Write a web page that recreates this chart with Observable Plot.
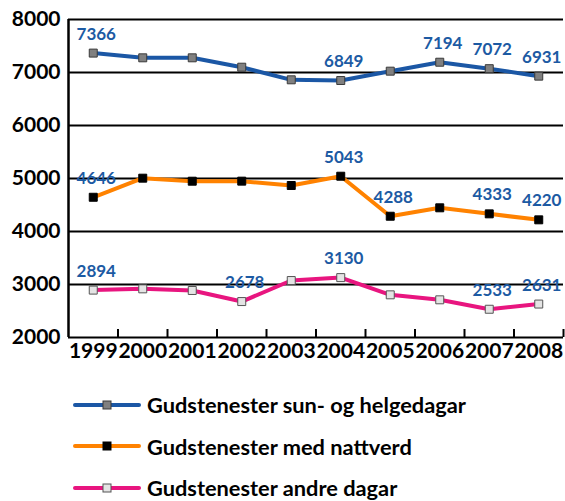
<!DOCTYPE html>
<html><head><meta charset="utf-8">
<script src="https://cdn.jsdelivr.net/npm/d3@7"></script>
<script src="https://cdn.jsdelivr.net/npm/@observablehq/plot@0.6"></script>
<style>
body{margin:0;background:#fff;font-family:Lato,"Liberation Sans",sans-serif;}
#wrap{position:relative;width:565px;height:501px;overflow:hidden;}
#legend{position:absolute;left:73px;top:384px;}
.row{display:flex;align-items:center;height:41.5px;}
.row span{margin-left:6px;font-size:21.8px;font-weight:bold;color:#000;white-space:nowrap;}
</style></head><body><div id="wrap"><div id="chart"></div><div id="legend"></div></div>
<script>
const years = [1999,2000,2001,2002,2003,2004,2005,2006,2007,2008];
const sunHelg = [7366,7277,7277,7100,6862,6849,7025,7194,7072,6931];
const nattverd = [4646,5006,4949,4950,4868,5043,4288,4447,4333,4220];
const andre = [2894,2918,2887,2678,3075,3130,2805,2711,2533,2631];
const seriesNames = ["Gudstenester sun- og helgedagar","Gudstenester med nattverd","Gudstenester andre dagar"];
const labelledYears = [[1999,2004,2006,2007,2008],[1999,2004,2005,2007,2008],[1999,2002,2004,2007,2008]];
const yTicks = [2000,3000,4000,5000,6000,7000,8000];

const lineColors = ["#1b57a5","#ff8200","#e8157f"];
const markerFill = ["#808080","#000000","#e4e4e4"];
const markerStroke = ["#3a3a3a","#000000","#555555"];
const labelColor = "#1c5aa3";
const allSeries = [sunHelg, nattverd, andre];

const seriesData = allSeries.map((vals, s) => years.map((yr, i) => ({series: s, year: yr, value: vals[i], labelled: labelledYears[s].includes(yr)})));
const boundaries = years.map(y => y + 0.5);

const marks = [
  Plot.ruleY(yTicks, {stroke: "#000", strokeWidth: 2}),
  Plot.ruleX([years[0] - 0.5], {y1: yTicks[0], y2: yTicks[yTicks.length - 1], stroke: "#000", strokeWidth: 2.5}),
  Plot.ruleX(boundaries, {y1: yTicks[0], y2: yTicks[0], insetBottom: 8, stroke: "#000", strokeWidth: 2}),
  Plot.axisY({ticks: yTicks, tickSize: 0, tickPadding: 8, tickFormat: d => String(d), fontSize: 21, fontWeight: "bold", fill: "#000", label: null}),
  Plot.axisX({ticks: years, tickSize: 0, tickPadding: 6, tickFormat: d => String(d), fontSize: 21, fontWeight: "bold", fill: "#000", label: null})
];
seriesData.forEach((sd, s) => {
  marks.push(Plot.line(sd, {x: "year", y: "value", stroke: lineColors[s], strokeWidth: 4, curve: "linear"}));
});
seriesData.forEach((sd, s) => {
  marks.push(Plot.dot(sd, {x: "year", y: "value", symbol: "square", r: 4.5, fill: markerFill[s], stroke: markerStroke[s], strokeWidth: 1}));
});
seriesData.forEach((sd, s) => {
  marks.push(Plot.text(sd.filter(d => d.labelled), {x: "year", y: "value", text: d => String(d.value), dy: -19, dx: 3, fill: labelColor, fontSize: 17, fontWeight: "bold"}));
});

const chart = Plot.plot({
  width: 565, height: 375,
  marginLeft: 68, marginRight: 2, marginTop: 19, marginBottom: 38,
  x: {domain: [years[0] - 0.5, years[years.length - 1] + 0.5]},
  y: {domain: [yTicks[0], yTicks[yTicks.length - 1]]},
  style: {fontFamily: "Lato, 'Liberation Sans', sans-serif", background: "white", overflow: "visible"},
  marks
});
document.getElementById("chart").appendChild(chart);

const legend = document.getElementById("legend");
seriesNames.forEach((name, s) => {
  const row = document.createElement("div");
  row.className = "row";
  row.innerHTML = `<svg width="68" height="12"><line x1="2" x2="66" y1="6" y2="6" stroke="${lineColors[s]}" stroke-width="4" stroke-linecap="round"/><rect x="30" y="2" width="8" height="8" fill="${markerFill[s]}" stroke="${markerStroke[s]}" stroke-width="1"/></svg><span>${name}</span>`;
  legend.appendChild(row);
});
</script>
</body></html>
